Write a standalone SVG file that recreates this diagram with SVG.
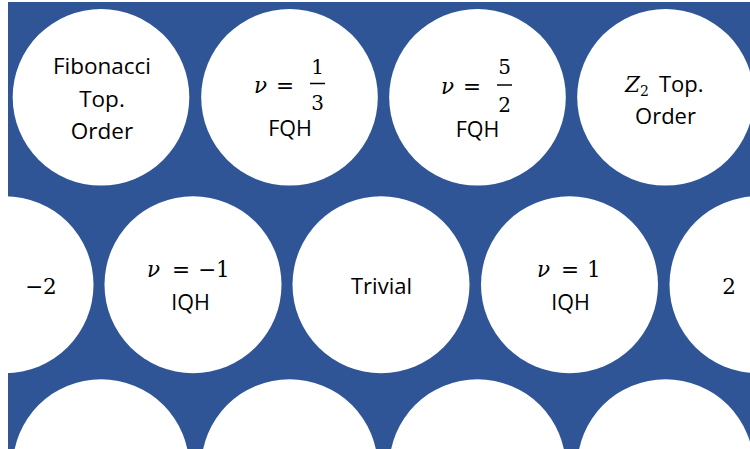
<svg xmlns="http://www.w3.org/2000/svg" width="750" height="449" viewBox="0 0 750 449">
<style>
.c{fill:#ffffff}
.s{font-family:"Open Sans","Liberation Sans",sans-serif;font-size:22px;fill:#000;text-anchor:middle}
.q{font-family:"Open Sans","Liberation Sans",sans-serif;font-size:21.5px;fill:#000;text-anchor:middle}
.m{font-family:"DejaVu Serif","Liberation Serif",serif;font-size:21.5px;fill:#000}
.mi{font-style:italic}
.f{font-family:"DejaVu Serif","Liberation Serif",serif;font-size:20px;fill:#000;text-anchor:middle}
.bar{stroke:#000;stroke-width:1.5}
</style>
<rect x="0" y="0" width="750" height="449" fill="#ffffff"/>
<rect x="8" y="2" width="742" height="447" fill="#2F5597"/>

<g id="fibonacci">
<circle class="c" cx="101" cy="97.3" r="88.3"/>
<text class="s" x="102" y="74" style="font-size:22.5px">Fibonacci</text>
<text class="s" x="102" y="107" style="font-size:22.5px">Top.</text>
<text class="s" x="102" y="139" style="font-size:22.5px">Order</text>
</g>

<g id="nu13">
<circle class="c" cx="289.5" cy="97.3" r="88.3"/>
<text class="m mi" x="254" y="93">ν</text>
<text class="m" x="276" y="93">=</text>
<text class="f" x="317.5" y="74">1</text>
<line class="bar" x1="310" y1="83.5" x2="325" y2="83.5"/>
<text class="f" x="317.5" y="110">3</text>
<text class="q" x="290" y="136">FQH</text>
</g>

<g id="nu52">
<circle class="c" cx="477.5" cy="97.3" r="88.3"/>
<text class="m mi" x="441" y="94">ν</text>
<text class="m" x="463" y="94">=</text>
<text class="f" x="504.5" y="74">5</text>
<line class="bar" x1="497" y1="85" x2="512" y2="85"/>
<text class="f" x="504.5" y="112">2</text>
<text class="q" x="477.5" y="137">FQH</text>
</g>

<g id="z2">
<circle class="c" cx="665.5" cy="97.3" r="88.3"/>
<text class="m" x="625" y="92"><tspan class="mi">Z</tspan><tspan dy="4" style="font-size:14px">2</tspan><tspan x="659" y="92" style="font-family:'Open Sans','Liberation Sans',sans-serif;font-size:22px">Top.</tspan></text>
<text class="s" x="665.5" y="124">Order</text>
</g>

<g id="minus2">
<circle class="c" cx="5" cy="284.7" r="88.5"/>
<text class="m" x="25" y="294">−2</text>
</g>

<g id="numinus1">
<circle class="c" cx="193" cy="284.7" r="88.5"/>
<text class="m mi" x="147" y="277">ν</text>
<text class="m" x="172" y="277">=</text>
<text class="m" x="198" y="277">−1</text>
<text class="q" x="190.5" y="310">IQH</text>
</g>

<g id="trivial">
<circle class="c" cx="381" cy="284.7" r="88.5"/>
<text class="s" x="381.5" y="294">Trivial</text>
</g>

<g id="nu1">
<circle class="c" cx="569.5" cy="284.7" r="88.5"/>
<text class="m mi" x="537" y="277">ν</text>
<text class="m" x="561" y="277">=</text>
<text class="m" x="587" y="277">1</text>
<text class="q" x="570.5" y="310">IQH</text>
</g>

<g id="two">
<circle class="c" cx="758" cy="284.7" r="88.5"/>
<text class="m" x="729" y="294" style="text-anchor:middle">2</text>
</g>

<g id="row3a"><circle class="c" cx="101" cy="467.5" r="88.3"/></g>
<g id="row3b"><circle class="c" cx="289.5" cy="467.5" r="88.3"/></g>
<g id="row3c"><circle class="c" cx="477.5" cy="467.5" r="88.3"/></g>
<g id="row3d"><circle class="c" cx="665.5" cy="467.5" r="88.3"/></g>
</svg>
